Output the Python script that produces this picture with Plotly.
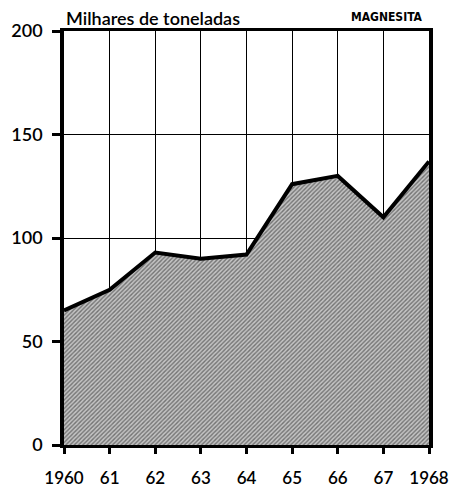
import plotly.graph_objects as go

years = [1960, 1961, 1962, 1963, 1964, 1965, 1966, 1967, 1968]
year_labels = ["1960", "61", "62", "63", "64", "65", "66", "67", "1968"]
production = [65, 75, 93, 90, 92, 126, 130, 110, 137]
y_ticks = [0, 50, 100, 150, 200]

fig = go.Figure()
fig.add_trace(go.Scatter(
    x=years, y=production, mode="lines",
    line=dict(color="black", width=4),
    fill="tozeroy",
    fillcolor="#9a9a9a",
    fillpattern=dict(shape="/", fgcolor="#222222", bgcolor="#c4c4c4", size=3, solidity=0.45),
    hoverinfo="skip",
))

font_main = "Lato, 'DejaVu Sans', sans-serif"

fig.update_layout(
    width=450, height=479,
    margin=dict(l=56, r=29, t=23, b=42),
    paper_bgcolor="white", plot_bgcolor="white",
    showlegend=False,
    font=dict(family=font_main, size=17, color="black"),
    xaxis=dict(
        range=[1960, 1968], tickmode="array", tickvals=years, ticktext=year_labels,
        showgrid=True, gridcolor="black", gridwidth=1, automargin=False,
        showline=True, linecolor="black", linewidth=3, mirror=True,
        ticks="outside", ticklen=6, tickwidth=3, tickcolor="black",
        ticklabelstandoff=10, zeroline=False,
        tickfont=dict(family=font_main, size=17, color="black", weight=600),
    ),
    yaxis=dict(
        range=[0, 200], tickmode="array", tickvals=y_ticks,
        showgrid=True, gridcolor="black", gridwidth=1, automargin=False,
        showline=True, linecolor="black", linewidth=3.5, mirror=True,
        ticks="outside", ticklen=8, tickwidth=3, tickcolor="black",
        ticklabelstandoff=6, zeroline=False,
        tickfont=dict(family=font_main, size=18, color="black", weight=600),
    ),
    annotations=[
        dict(text="Milhares de toneladas", xref="paper", yref="paper", x=0.0, y=1.0,
             xanchor="left", yanchor="bottom", yshift=0, showarrow=False,
             font=dict(family=font_main, size=18, color="black", weight=600)),
        dict(text="<b>MAGNESITA</b>", xref="paper", yref="paper", x=1.0, y=1.0,
             xanchor="right", yanchor="bottom", xshift=-4, yshift=5, showarrow=False,
             font=dict(family="'Liberation Sans Narrow', 'DejaVu Sans Condensed', sans-serif", size=12, color="black")),
    ],
)

fig.write_html("out.html")
